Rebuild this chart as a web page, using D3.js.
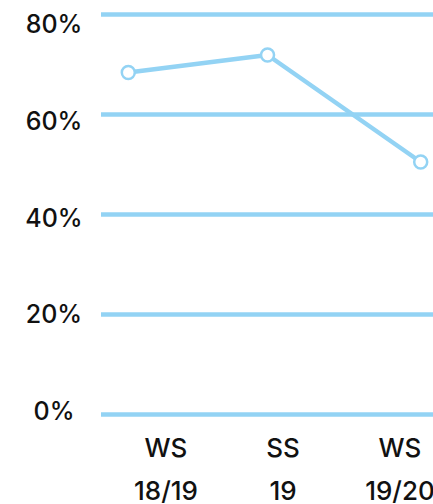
<!DOCTYPE html>
<html>
<head>
<meta charset="utf-8">
<script src="https://cdn.jsdelivr.net/npm/d3@7"></script>
<style>
  html, body { margin: 0; padding: 0; background: #fff; }
  svg { display: block; }
  text { font-family: Inter, Lato, "Open Sans", sans-serif; fill: #111; }
</style>
</head>
<body>
<svg id="chart" width="433" height="504"></svg>
<script>
// Semesters, their position along the timeline, and the share for each
const categories = ["WS 18/19", "SS 19", "WS 19/20"];
const positions = [0, 1, 2.1];
const values = [68.4, 71.9, 50.5];
const yTicks = [0, 20, 40, 60, 80];
const tickLabels = ["0%", "20%", "40%", "60%", "80%"];

const blue = "#93D3F4";
const W = 433, H = 504;

const svg = d3.select("#chart");

// Plot scales
const y = d3.scaleLinear().domain([0, 80]).range([414.5, 14.5]);
const yLabel = d3.scaleLinear().domain([0, 80]).range([411, 24]);
const x = d3.scaleLinear().domain([0, 2.1]).range([128.3, 420.7]);
const xLabel = d3.scalePoint().domain(categories).range([166, 400]);

// Horizontal grid lines
svg.append("g")
  .selectAll("line")
  .data(yTicks)
  .join("line")
  .attr("x1", 101)
  .attr("x2", W + 5)
  .attr("y1", d => y(d))
  .attr("y2", d => y(d))
  .attr("stroke", blue)
  .attr("stroke-width", 4.5);

// Y axis labels
svg.append("g")
  .selectAll("text")
  .data(yTicks)
  .join("text")
  .attr("x", 54)
  .attr("y", d => yLabel(d))
  .attr("dy", "0.36em")
  .attr("text-anchor", "middle")
  .attr("font-size", 25)
  .attr("font-weight", 500)
  .text((d, i) => tickLabels[i]);

// X axis labels, two lines each
const xl = svg.append("g")
  .selectAll("text")
  .data(categories)
  .join("text")
  .attr("text-anchor", "middle")
  .attr("font-size", 26)
  .attr("font-weight", 500);
xl.each(function (d) {
  const parts = d.split(" ");
  const t = d3.select(this);
  parts.forEach((p, i) => {
    t.append("tspan")
      .attr("x", xLabel(d))
      .attr("y", 456.5 + i * 43)
      .text(p);
  });
});

// Series line
const pts = values.map((v, i) => [x(positions[i]), y(v)]);
svg.append("path")
  .datum(pts)
  .attr("d", d3.line())
  .attr("fill", "none")
  .attr("stroke", blue)
  .attr("stroke-width", 4.5)
  .attr("stroke-linejoin", "round");

// Point markers
svg.append("g")
  .selectAll("circle")
  .data(pts)
  .join("circle")
  .attr("cx", d => d[0])
  .attr("cy", d => d[1])
  .attr("r", 6.5)
  .attr("fill", "#fff")
  .attr("stroke", blue)
  .attr("stroke-width", 2.5);
</script>
</body>
</html>
